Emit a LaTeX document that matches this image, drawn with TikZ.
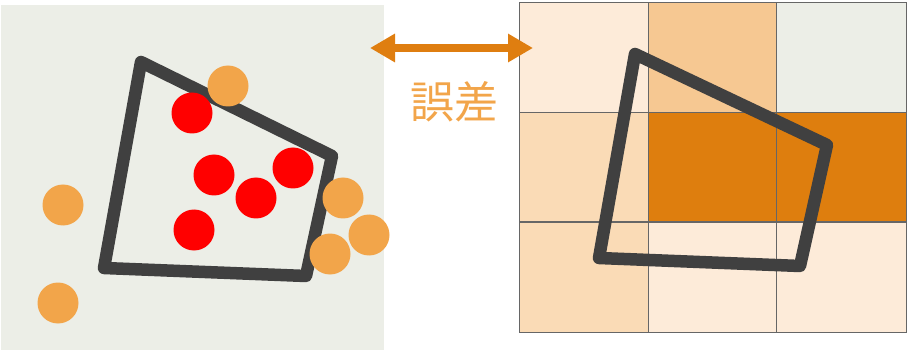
\documentclass[tikz,border=0pt]{standalone}
\usepackage{fontspec}
\newfontfamily\cjk{Noto Sans CJK JP}
\usetikzlibrary{arrows.meta}
\definecolor{panelbg}{HTML}{ECEEE7}
\definecolor{quadgray}{HTML}{404040}
\definecolor{dotred}{HTML}{FF0000}
\definecolor{dotorange}{HTML}{F2A54A}
\definecolor{arrorange}{HTML}{DF7E10}
\definecolor{cellA}{HTML}{FDEBD9}
\definecolor{cellB}{HTML}{F6C892}
\definecolor{cellC}{HTML}{FADBB6}
\definecolor{cellD}{HTML}{DE7E0E}
\tikzset{
  reddot/.style={circle, fill=dotred, minimum size=41pt, inner sep=0pt, draw=none},
  orangedot/.style={circle, fill=dotorange, minimum size=41pt, inner sep=0pt, draw=none},
  quadline/.style={draw=quadgray, line width=12.5pt, line join=round},
  cellbox/.style={draw=black!60, line width=1pt},
}
\begin{document}
\begin{tikzpicture}[x=1pt,y=-1pt]
\useasboundingbox (0,0) rectangle (911,350);
% left panel
\fill[panelbg] (1,5) rectangle (384,350);
\draw[quadline] (141,62) -- (332,156) -- (306,276) -- (104,268) -- cycle;
\node[reddot] (r1) at (192,113) {};
\node[reddot] (r2) at (214,175) {};
\node[reddot] (r3) at (256,198) {};
\node[reddot] (r4) at (293,168) {};
\node[reddot] (r5) at (194,230) {};
\node[orangedot] (o1) at (228,86) {};
\node[orangedot] (o2) at (63,205) {};
\node[orangedot] (o3) at (343,198) {};
\node[orangedot] (o4) at (369,235) {};
\node[orangedot] (o5) at (330,254) {};
\node[orangedot] (o6) at (58,303) {};
% right grid
\filldraw[cellbox, fill=cellA] (519,3) rectangle (648,113);
\filldraw[cellbox, fill=cellB] (648,3) rectangle (776,113);
\filldraw[cellbox, fill=panelbg] (776,3) rectangle (906,113);
\filldraw[cellbox, fill=cellC] (519,113) rectangle (648,222);
\filldraw[cellbox, fill=cellD] (648,113) rectangle (776,222);
\filldraw[cellbox, fill=cellD] (776,113) rectangle (906,222);
\filldraw[cellbox, fill=cellC] (519,222) rectangle (648,332);
\filldraw[cellbox, fill=cellA] (648,222) rectangle (776,332);
\filldraw[cellbox, fill=cellA] (776,222) rectangle (906,332);
\draw[quadline] (635,54) -- (827,145) -- (800,266) -- (599,258) -- cycle;
% arrow and label
\coordinate (aL) at (370,48);
\coordinate (aR) at (533,48);
\draw[arrorange, line width=8pt, {Triangle[length=25pt,width=27pt]}-{Triangle[length=25pt,width=27pt]}] (aL) -- (aR);
\node[text=dotorange, font=\cjk\fontsize{44}{44}\selectfont, inner sep=0pt] (lbl) at (454,102) {誤差};
\end{tikzpicture}
\end{document}
